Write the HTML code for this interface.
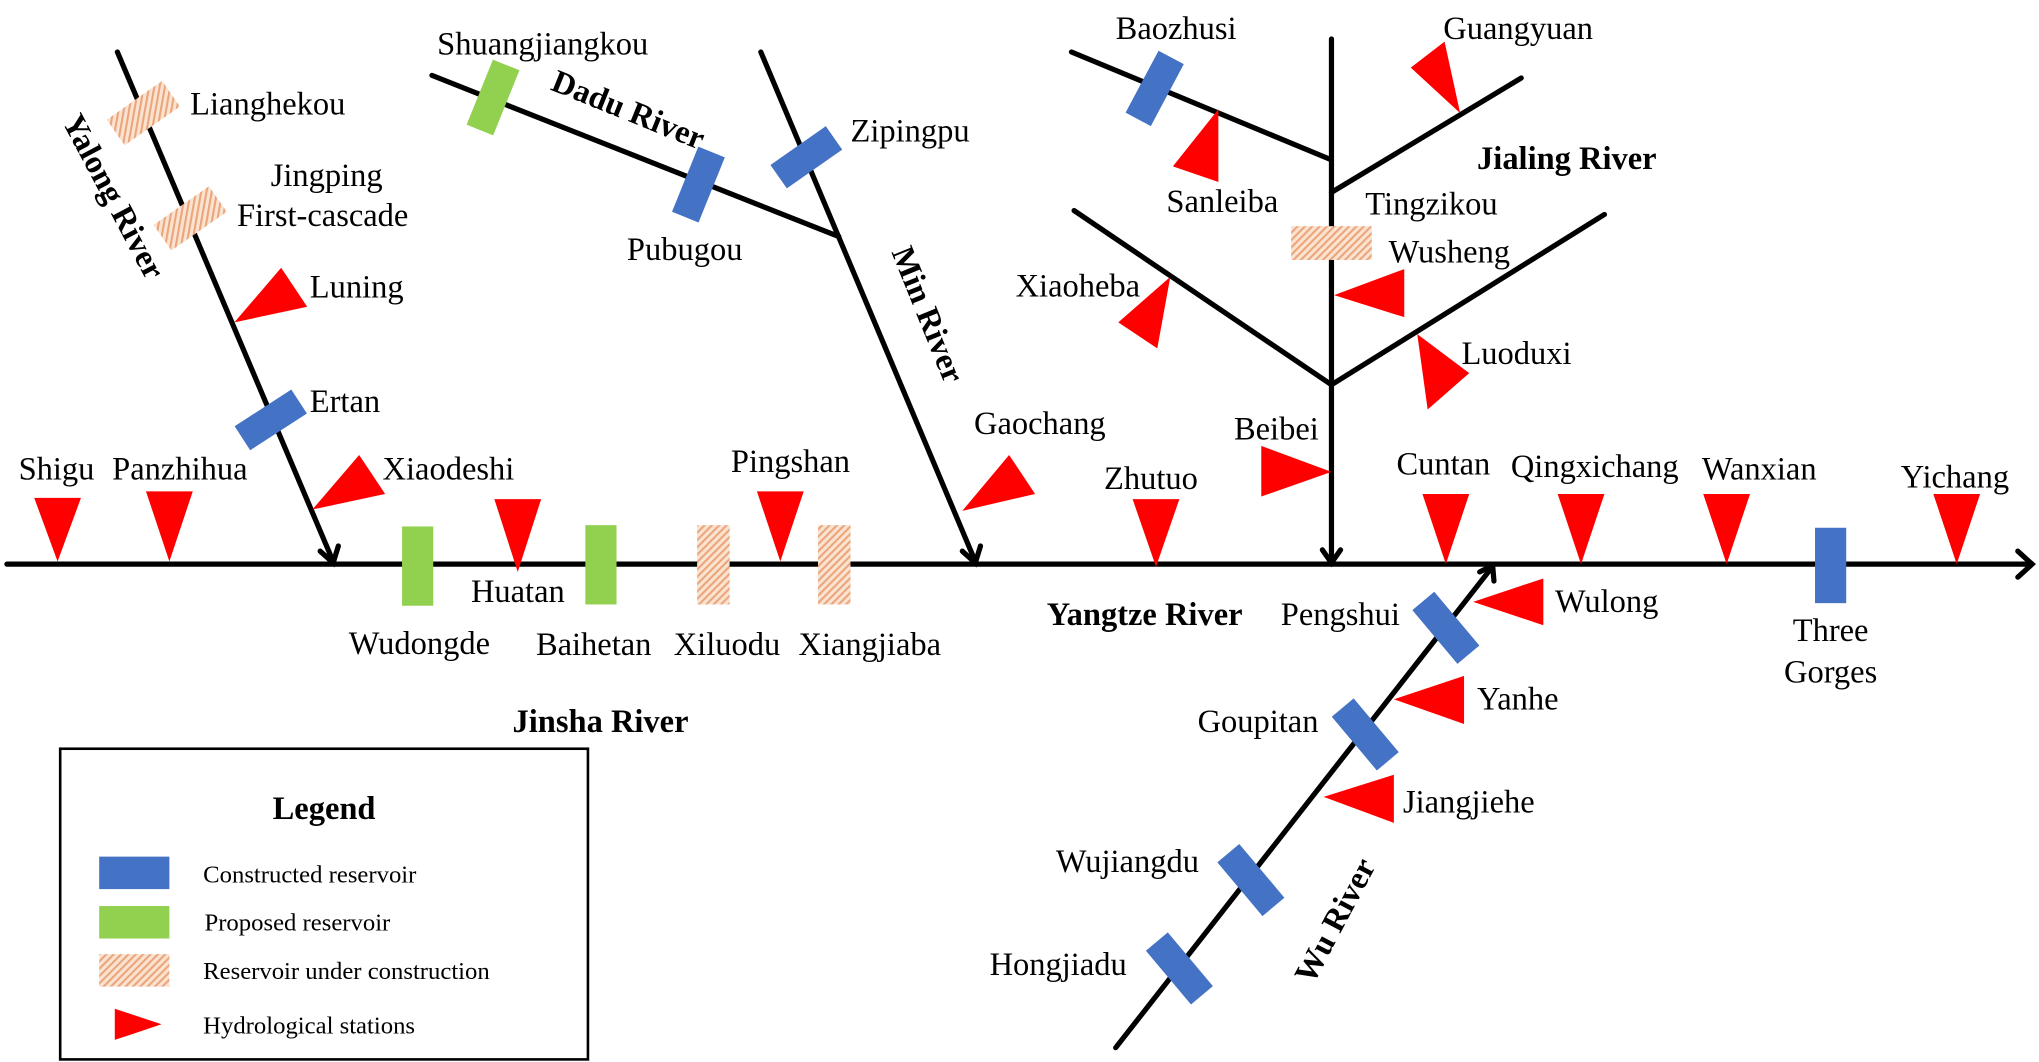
<!DOCTYPE html>
<html><head><meta charset="utf-8"><style>
html,body{margin:0;padding:0;background:#fff;}
svg{display:block;}
text{font-family:"Liberation Serif",serif;font-size:25px;fill:#000;}
.b{font-weight:bold;}
.lg{font-size:19px;}
</style></head><body>
<svg width="2039" height="1062" viewBox="0 0 1568 817" xmlns="http://www.w3.org/2000/svg">
<defs>
<pattern id="h" width="4" height="4" patternUnits="userSpaceOnUse" patternTransform="rotate(45)">
<rect width="4" height="4" fill="#fbe3d2"/><rect width="1.6" height="4" fill="#eaa57a"/>
</pattern>
</defs>
<g stroke="#000" stroke-width="4" fill="none" stroke-linecap="round">
<line x1="5" y1="434" x2="1562" y2="434"/>
<polyline points="1552,424 1563,434 1552,444"/>
<line x1="90" y1="40" x2="256" y2="432"/>
<polyline points="246,424 256,433 260,420"/>
<line x1="332" y1="58" x2="645" y2="182"/>
<line x1="585" y1="40" x2="750" y2="432"/>
<polyline points="740,424 750,433 754,420"/>
<line x1="1024" y1="30" x2="1024" y2="432"/>
<polyline points="1017,423 1024,433 1031,423"/>
<line x1="824" y1="40" x2="1024" y2="123"/>
<line x1="1024" y1="148" x2="1170" y2="60"/>
<line x1="826" y1="162" x2="1024" y2="296"/>
<line x1="1024" y1="296" x2="1234" y2="165"/>
<line x1="858" y1="806" x2="1147" y2="437"/>
<polyline points="1138,440 1148,435 1149,447"/>
</g>
<g>
<rect x="-26" y="-12" width="52" height="24" fill="url(#h)" transform="translate(110,87) rotate(-35)"/>
<rect x="-26" y="-12" width="52" height="24" fill="url(#h)" transform="translate(146,168) rotate(-35)"/>
<rect x="-26" y="-11" width="52" height="22" fill="#4472c4" transform="translate(208,323) rotate(-33)"/>
<rect x="-11" y="-27" width="22" height="54" fill="#92d050" transform="translate(379,75) rotate(22)"/>
<rect x="-11" y="-27" width="22" height="54" fill="#4472c4" transform="translate(537,142) rotate(22)"/>
<rect x="-26" y="-11" width="52" height="22" fill="#4472c4" transform="translate(620,121) rotate(-35)"/>
<rect x="-11" y="-27" width="22" height="54" fill="#4472c4" transform="translate(888,68) rotate(28)"/>
<rect x="993" y="174" width="62" height="26" fill="url(#h)"/>
<rect x="1396" y="406" width="24" height="58" fill="#4472c4"/>
<rect x="309" y="405" width="24" height="61" fill="#92d050"/>
<rect x="450" y="404" width="24" height="61" fill="#92d050"/>
<rect x="536" y="404" width="25" height="61" fill="url(#h)"/>
<rect x="629" y="404" width="25" height="61" fill="url(#h)"/>
<rect x="-27" y="-11" width="54" height="22" fill="#4472c4" transform="translate(1112,483) rotate(50)"/>
<rect x="-27" y="-11" width="54" height="22" fill="#4472c4" transform="translate(1050,565) rotate(50)"/>
<rect x="-27" y="-11" width="54" height="22" fill="#4472c4" transform="translate(962,677) rotate(50)"/>
<rect x="-27" y="-11" width="54" height="22" fill="#4472c4" transform="translate(907,745) rotate(50)"/>
</g>
<g fill="#ff0000">
<polygon points="26,383 62,383 44,432"/>
<polygon points="112,378 148,378 130,432"/>
<polygon points="380,384 416,384 398,440"/>
<polygon points="582,378 618,378 600,432"/>
<polygon points="871,384 907,384 889,436"/>
<polygon points="1094,380 1130,380 1112,434"/>
<polygon points="1198,380 1234,380 1216,434"/>
<polygon points="1310,380 1346,380 1328,434"/>
<polygon points="1487,380 1523,380 1505,434"/>
<polygon points="180,248 216,206 236,236"/>
<polygon points="240,392 276,350 296,380"/>
<polygon points="740,393 776,350 796,380"/>
<polygon points="937,84 937,140 902,128"/>
<polygon points="1085,52 1111,32 1123,87"/>
<polygon points="900,213 890,268 860,248"/>
<polygon points="1026,227 1080,207 1080,244"/>
<polygon points="1090,257 1098,315 1130,287"/>
<polygon points="1024,363 970,343 970,382"/>
<polygon points="1133,463 1187,445 1187,481"/>
<polygon points="1072,538 1126,520 1126,557"/>
<polygon points="1018,613 1072,596 1072,633"/>
</g>
<text x="146" y="88">Lianghekou</text>
<text x="251" y="143" text-anchor="middle">Jingping</text>
<text x="182" y="174">First-cascade</text>
<text x="238" y="229">Luning</text>
<text x="238" y="317">Ertan</text>
<text x="14" y="369">Shigu</text>
<text x="86" y="369">Panzhihua</text>
<text x="294" y="369">Xiaodeshi</text>
<text x="336" y="42">Shuangjiangkou</text>
<text x="482" y="200">Pubugou</text>
<text x="654" y="109">Zipingpu</text>
<text x="749" y="334">Gaochang</text>
<text x="562" y="363">Pingshan</text>
<text x="362" y="463">Huatan</text>
<text x="268" y="503">Wudongde</text>
<text x="412" y="504">Baihetan</text>
<text x="518" y="504">Xiluodu</text>
<text x="614" y="504">Xiangjiaba</text>
<text class="b" x="394" y="563">Jinsha River</text>
<text x="858" y="30">Baozhusi</text>
<text x="1110" y="30">Guangyuan</text>
<text class="b" x="1136" y="130">Jialing River</text>
<text x="897" y="163">Sanleiba</text>
<text x="1050" y="165">Tingzikou</text>
<text x="1068" y="202">Wusheng</text>
<text x="781" y="228">Xiaoheba</text>
<text x="1124" y="280">Luoduxi</text>
<text x="949" y="338">Beibei</text>
<text x="849" y="376">Zhutuo</text>
<text x="1074" y="365">Cuntan</text>
<text x="1162" y="367">Qingxichang</text>
<text x="1309" y="369">Wanxian</text>
<text x="1462" y="375">Yichang</text>
<text class="b" x="805" y="481">Yangtze River</text>
<text x="985" y="481">Pengshui</text>
<text x="1196" y="471">Wulong</text>
<text x="1408" y="493" text-anchor="middle">Three</text>
<text x="1408" y="525" text-anchor="middle">Gorges</text>
<text x="921" y="563">Goupitan</text>
<text x="1136" y="546">Yanhe</text>
<text x="1079" y="625">Jiangjiehe</text>
<text x="812" y="671">Wujiangdu</text>
<text x="761" y="750">Hongjiadu</text>
<text class="b" transform="translate(80,155) rotate(62)" text-anchor="middle">Yalong River</text>
<text class="b" transform="translate(480,92) rotate(22)" text-anchor="middle">Dadu River</text>
<text class="b" transform="translate(706,245) rotate(68)" text-anchor="middle">Min River</text>
<text class="b" transform="translate(1034,712) rotate(-62)" text-anchor="middle">Wu River</text>
<rect x="46" y="576" width="406" height="239" fill="none" stroke="#000" stroke-width="2"/>
<text class="b" x="249" y="630" text-anchor="middle">Legend</text>
<rect x="76" y="659" width="54" height="25" fill="#4472c4"/>
<rect x="76" y="697" width="54" height="25" fill="#92d050"/>
<rect x="76" y="734" width="54" height="25" fill="url(#h)"/>
<polygon points="88,776 88,800 124,788" fill="#ff0000"/>
<text class="lg" x="156" y="679">Constructed reservoir</text>
<text class="lg" x="157" y="716">Proposed reservoir</text>
<text class="lg" x="156" y="753">Reservoir under construction</text>
<text class="lg" x="156" y="795">Hydrological stations</text>
</svg>
</body></html>
